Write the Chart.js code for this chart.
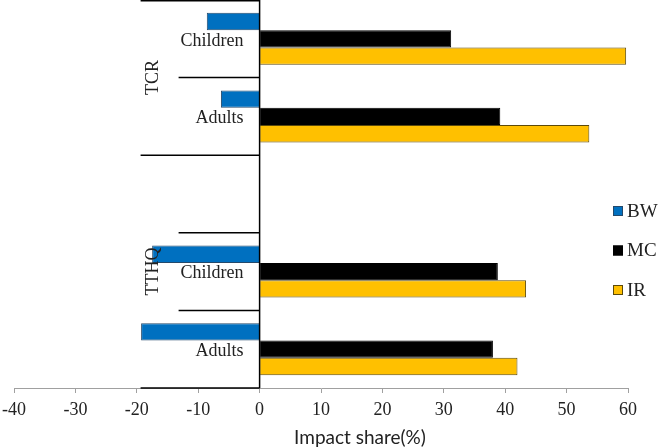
<!DOCTYPE html>
<html>
<head>
<meta charset="utf-8">
<script src="https://cdn.jsdelivr.net/npm/chart.js@4.4.0/dist/chart.umd.min.js"></script>
<style>
    html, body { margin: 0; padding: 0; background: #fff; }
    #wrap { width: 661px; height: 448px; }
</style>
</head>
<body>
<div id="wrap"><canvas id="impactChart"></canvas></div>
<script>
// Data
const categories = ['Children', 'Adults', '', 'Children', 'Adults'];
const groupLabels = ['TCR', 'TTHQ'];
const groupStarts = [0, 2];
const groupEnds = [1, 4];
const seriesNames = ['BW', 'MC', 'IR'];
const bwValues = [-8.6, -6.3, null, -17.5, -19.3];
const mcValues = [31.2, 39.2, null, 38.8, 38.0];
const irValues = [59.7, 53.7, null, 43.4, 42.0];
const xTicks = [-40, -30, -20, -10, 0, 10, 20, 30, 40, 50, 60];

const fillColors = ['#0070C0', '#000000', '#FFC000'];
const edgeColors = ['#24496b', '#000000', '#5c4a0a'];
const serif = "'Liberation Serif'";
const sans = "Lato";

// Draws the axis at zero, category dividers, labels, legend and axis title
const overlayPlugin = {
    id: 'overlay',
    afterDatasetsDraw(chart) {
        const ctx = chart.ctx;
        const xs = chart.scales.x;
        const ys = chart.scales.y;
        const area = chart.chartArea;
        const zeroX = xs.getPixelForValue(0);
        const step = ys.getPixelForValue(1) - ys.getPixelForValue(0);
        const edge = i => ys.getPixelForValue(i) - step / 2;

        ctx.save();
        ctx.strokeStyle = '#000';
        ctx.lineWidth = 1.5;

        ctx.beginPath();
        ctx.moveTo(zeroX, area.top);
        ctx.lineTo(zeroX, area.bottom);
        ctx.stroke();

        for (let i = 0; i <= categories.length; i++) {
            const groupEdge = groupStarts.includes(i) || i === categories.length;
            const len = groupEdge ? 119 : 81;
            const yy = Math.max(edge(i), area.top + 0.75);
            ctx.beginPath();
            ctx.moveTo(zeroX - len, yy);
            ctx.lineTo(zeroX, yy);
            ctx.stroke();
        }

        ctx.fillStyle = '#222';
        ctx.font = '18px ' + serif;
        ctx.textAlign = 'right';
        ctx.textBaseline = 'middle';
        categories.forEach((cat, i) => {
            if (cat) ctx.fillText(cat, zeroX - 16, ys.getPixelForValue(i) + 2);
        });

        ctx.textAlign = 'center';
        groupLabels.forEach((g, i) => {
            const cy = (edge(groupStarts[i]) + edge(groupEnds[i] + 1)) / 2;
            ctx.save();
            ctx.translate(zeroX - 106, cy);
            ctx.rotate(-Math.PI / 2);
            ctx.fillText(g, 0, 0);
            ctx.restore();
        });

        // legend
        ctx.textAlign = 'left';
        ctx.font = '19px ' + serif;
        seriesNames.forEach((name, i) => {
            const cy = 211 + i * 39.5;
            ctx.fillStyle = fillColors[i];
            ctx.fillRect(613, cy - 5, 10, 10);
            ctx.strokeStyle = edgeColors[i];
            ctx.lineWidth = 1;
            ctx.strokeRect(613.5, cy - 4.5, 9, 9);
            ctx.fillStyle = '#222';
            ctx.fillText(name, 627, cy + 1);
        });

        // axis title
        ctx.font = '19px ' + sans;
        ctx.textAlign = 'center';
        ctx.textBaseline = 'alphabetic';
        ctx.fillText('Impact share(%)', (area.left + area.right) / 2 + 39, 444);
        ctx.restore();
    }
};

function drawChart() {
    const ctx = document.getElementById('impactChart').getContext('2d');

    new Chart(ctx, {
        type: 'bar',
        data: {
            labels: categories,
            datasets: [
                { label: seriesNames[0], data: bwValues },
                { label: seriesNames[1], data: mcValues },
                { label: seriesNames[2], data: irValues }
            ].map((ds, i) => Object.assign(ds, {
                backgroundColor: fillColors[i],
                borderColor: edgeColors[i],
                borderWidth: 1,
                categoryPercentage: 0.67,
                barPercentage: 1.0
            }))
        },
        options: {
            indexAxis: 'y',
            responsive: true,
            maintainAspectRatio: false,
            animation: false,
            layout: {
                padding: { left: 14, right: 33, top: 0, bottom: 0 }
            },
            plugins: {
                legend: { display: false },
                tooltip: { enabled: false }
            },
            scales: {
                x: {
                    min: -40,
                    max: 60,
                    afterBuildTicks: function(scale) {
                        scale.ticks = xTicks.map(v => ({ value: v }));
                    },
                    afterFit: function(scale) {
                        scale.height = 60;
                        scale.paddingLeft = 0;
                        scale.paddingRight = 0;
                    },
                    ticks: {
                        font: { family: serif, size: 18 },
                        color: '#222',
                        padding: 6
                    },
                    grid: {
                        drawOnChartArea: false,
                        drawTicks: true,
                        tickLength: 5,
                        color: '#a0a0a0'
                    },
                    border: { color: '#a0a0a0', width: 1 }
                },
                y: {
                    display: false
                }
            }
        },
        plugins: [overlayPlugin]
    });
}

Promise.all([
    document.fonts.load('18px ' + serif),
    document.fonts.load('18px ' + sans)
]).then(drawChart, drawChart);
</script>
</body>
</html>
